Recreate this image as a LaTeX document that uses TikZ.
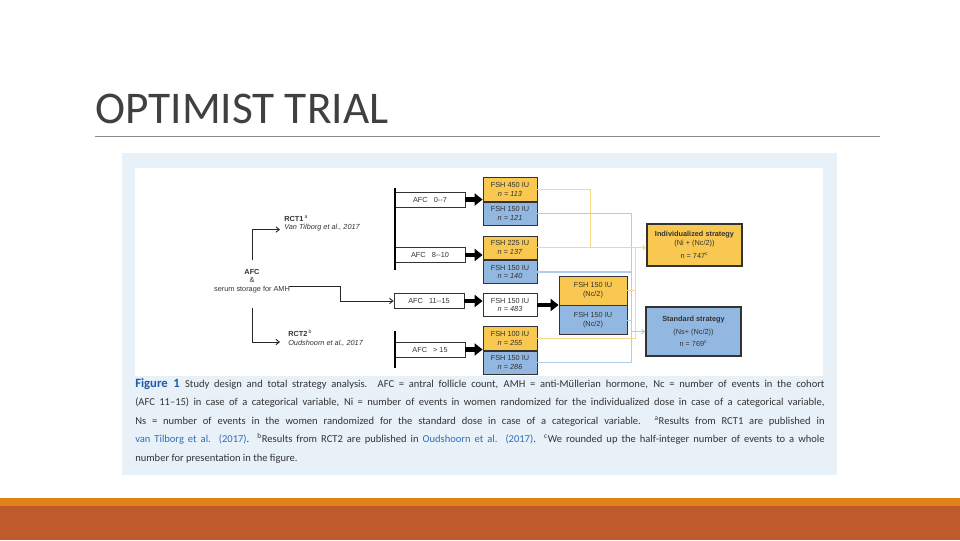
\documentclass[tikz,border=0pt]{standalone}
\usepackage{fontspec}
\setmainfont{Carlito}
\newfontfamily\diagfont{Liberation Sans}
\usetikzlibrary{arrows.meta,positioning,calc}

\definecolor{panelbg}{HTML}{E8F0F8}
\definecolor{fshyellow}{HTML}{F8C850}
\definecolor{fshblue}{HTML}{92B7E0}
\definecolor{lineyellow}{HTML}{F6D88C}
\definecolor{lineblue}{HTML}{B2CDE8}
\definecolor{figblue}{HTML}{1F5AA6}
\definecolor{linkblue}{HTML}{2F6DB8}
\definecolor{barorange}{HTML}{E2821A}
\definecolor{barbrown}{HTML}{BE5A2C}
\definecolor{titlegray}{HTML}{404040}

\begin{document}
\begin{tikzpicture}[
  x=0.75pt, y=-0.75pt,
  box/.style={draw=black!80, line width=0.6pt, inner sep=0pt, align=center, text=black!80,
    font=\diagfont\fontsize{5.5}{6.6}\selectfont},
  afcbox/.style={box, fill=white, minimum width=52.5pt, minimum height=11.25pt},
  fshbox/.style={box, minimum width=40.5pt, minimum height=17.6pt},
  hi/.style={fshbox, fill=fshyellow},
  lo/.style={fshbox, fill=fshblue},
  ncbox/.style={box, minimum width=51pt, minimum height=21.75pt},
  strat/.style={box, line width=1.1pt, minimum width=71.5pt},
  lab/.style={inner sep=0pt, text=black!80, font=\diagfont\fontsize{5.5}{6.6}\selectfont},
  thinarr/.style={line width=0.7pt, black!85, -{Straight Barb[length=2.5pt,width=4pt]}},
  fat/.style={line width=3.2pt, -{Triangle[length=6pt,width=9pt]}},
  bracket/.style={line width=1.6pt},
  yline/.style={line width=0.8pt, lineyellow},
  bline/.style={line width=0.8pt, lineblue},
  tip/.style={-{Straight Barb[length=2pt,width=3.5pt]}}
]
\useasboundingbox (0,0) rectangle (960,540);

% title and rule
\node[anchor=base west, inner sep=0pt, text=titlegray, font=\fontsize{34}{40}\selectfont] (title) at (95,123) {OPTIMIST TRIAL};
\draw[line width=0.75pt, black!45] (95,136) -- (880,136);

% figure panel
\fill[panelbg] (122,153) rectangle (837,475);
\fill[white] (135,168) rectangle (823,376);

% left tree
\node[lab, align=center] (afc) at (252,281) {\textbf{AFC}\\\&\\serum storage for AMH};
\node[lab, anchor=west, align=left] (rct1) at (284,223.5) {\textbf{RCT1}\,\textsuperscript{a}\\\textit{Van Tilborg et al., 2017}};
\node[lab, anchor=west, align=left] (rct2) at (288,338) {\textbf{RCT2}\,\textsuperscript{b}\\\textit{Oudshoorn et al., 2017}};
\coordinate (amh) at (289,286);

% AFC groups
\node[afcbox] (afc1) at (430,199.5) {AFC~~~0--7};
\node[afcbox] (afc2) at (430,255) {AFC~~~8--10};
\node[afcbox] (afc3) at (429,301) {AFC~~~11--15};
\node[afcbox] (afc4) at (430,349.5) {AFC~~~> 15};
\draw[bracket] ([yshift=3pt]afc1.north west) -- ([yshift=-5.6pt]afc2.south west);
\draw[bracket] ([yshift=8pt]afc4.north west) -- ([yshift=-8pt]afc4.south west);

\draw[thinarr] ([yshift=15.75pt]afc.center) |- ([xshift=-3pt,yshift=-4.5pt]rct1.west);
\draw[thinarr] ([yshift=-20.25pt]afc.center) |- ([xshift=-6pt,yshift=-3pt]rct2.west);
\draw[thinarr] (amh) -- ++(51,0) |- (afc3.west);

% FSH doses
\node[hi] (y1) at (510,189.5) {FSH 450 IU\\\textit{n = 113}};
\node[lo, below=0pt of y1] (b1) {FSH 150 IU\\\textit{n = 121}};
\node[hi] (y2) at (510,247.75) {FSH 225 IU\\\textit{n = 137}};
\node[lo, below=0pt of y2] (b2) {FSH 150 IU\\\textit{n = 140}};
\node[fshbox, fill=white] (w) at (510,305) {FSH 150 IU\\\textit{n = 483}};
\node[hi] (y3) at (510,338.5) {FSH 100 IU\\\textit{n = 255}};
\node[lo, below=0pt of y3] (b3) {FSH 150 IU\\\textit{n = 286}};

\foreach \a/\b in {afc1/y1, afc2/y2, afc4/y3} \draw[fat] (\a.east) -- (\a.east -| \b.south west);
\draw[fat] (afc3.east) -- (afc3.east -| w.west);

% cohort split
\node[ncbox, fill=fshyellow] (nc1) at (593,290.5) {FSH 150 IU\\(Nc/2)};
\node[ncbox, fill=fshblue, below=0pt of nc1] (nc2) {FSH 150 IU\\(Nc/2)};
\draw[fat] (w.east) -- (w.east -| nc1.west);

% strategies
\node[strat, fill=fshyellow, minimum height=31.5pt] (ind) at (694.5,245)
  {\textbf{Individualized strategy}\\(Ni + (Nc/2))\\[3pt]n = 747\textsuperscript{c}};
\node[strat, fill=fshblue, minimum height=36.75pt] (std) at (693.5,331.5)
  {\textbf{Standard strategy}\\[2.5pt](Ns+ (Nc/2))\\[2.5pt]n = 769\textsuperscript{c}};

% collecting lines
\draw[bline] (b1.east) -- ++(94,0) |- (b3.east);
\draw[bline] (b2.east) -- ++(94,0);
\draw[bline] (nc2.east) -- ++(4,0);
\draw[bline, tip] ([xshift=-10.5pt]std.west) -- (std.west);
\draw[yline] (y1.east) -- ++(53,0) |- (y2.east);
\draw[yline] (y3.east) -| ([xshift=73.5pt]y2.east);
\draw[yline] (nc1.east) -- ++(8,0);
\draw[yline, tip] (y2.east) -- (y2.east -| ind.west);

% caption
\node[anchor=north west, inner sep=0pt, text width=517pt, align=justify, text=black!80,
  font=\fontsize{7.9}{13.9}\selectfont] (caption) at (135,378)
  {{\color{figblue}\fontsize{9.5}{13.9}\selectfont\bfseries Figure 1}\enspace Study design and total strategy analysis. AFC = antral follicle count, AMH = anti-Müllerian hormone, Nc = number of events in the cohort\linebreak
  (AFC 11--15) in case of a categorical variable, Ni = number of events in women randomized for the individualized dose in case of a categorical variable,\linebreak
  Ns = number of events in the women randomized for the standard dose in case of a categorical variable. \textsuperscript{a}Results from RCT1 are published in\linebreak
  {\color{linkblue}van Tilborg et al. (2017)}. \textsuperscript{b}Results from RCT2 are published in {\color{linkblue}Oudshoorn et al. (2017)}. \textsuperscript{c}We rounded up the half-integer number of events to a whole\linebreak
  number for presentation in the figure.\par};

% bottom bars
\fill[barorange] (0,498) rectangle (960,506);
\fill[barbrown] (0,506) rectangle (960,540);
\end{tikzpicture}
\end{document}
